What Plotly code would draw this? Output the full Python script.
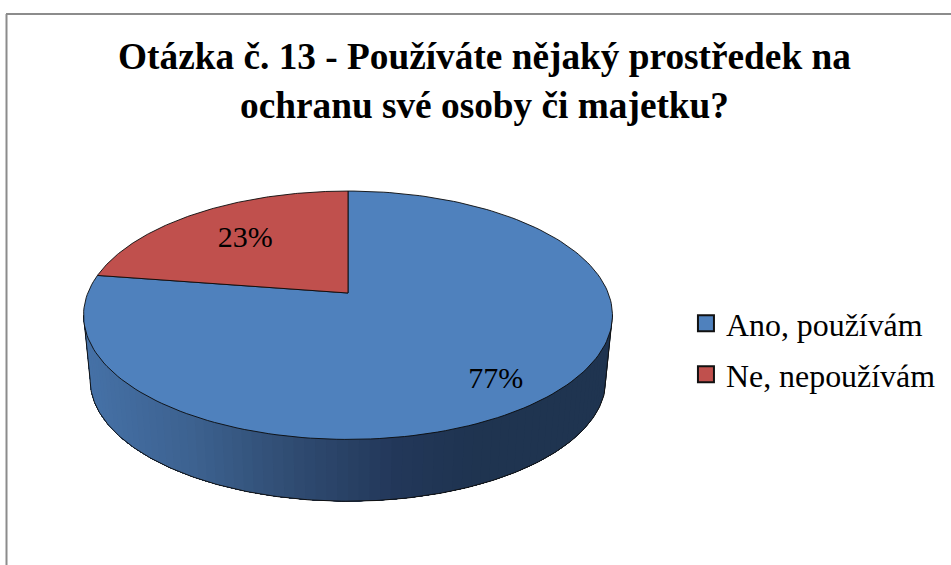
import numpy as np
import plotly.graph_objects as go

# data
categories = ['Ano, používám', 'Ne, nepoužívám']
values = [77.4, 22.6]
colors = ['#4f81bd', '#c0504d']
title_text = 'Otázka č. 13 - Používáte nějaký prostředek na<br>ochranu své osoby či majetku?'

# pie geometry in pixels (axes run 1:1 with the page)
WIDTH, HEIGHT = 951, 565
CX, CY = 348, 293
RX, RY = 260.2, 120.2
TILT = 0.179
WALL_DROP = 65.5
WALL_SCALE = 0.975
LABEL_RADIUS = [0.816, 0.65]
LABEL_TURN = [2.7, -0.7]
FONT = 'Liberation Serif'


def rim(angle, scale=1.0, drop=0.0, radius=1.0):
    # angle is clockwise from the top of the pie, in radians
    u = np.sin(angle) * radius
    v = -np.cos(angle) * radius
    w = 1 - TILT * v
    return CX + scale * RX * u / w, CY + drop + scale * RY * v / w


def wall_color(x):
    stops_x = [91, 200, 300, 400, 480]
    stops = np.array([[70, 114, 168], [61, 98, 144], [48, 76, 114], [35, 56, 90], [31, 52, 80]])
    rgb = [int(np.interp(x, stops_x, stops[:, i])) for i in range(3)]
    return f'rgb({rgb[0]},{rgb[1]},{rgb[2]})'


fig = go.Figure()

# side wall, cut in strips to get the gradient. drawn right to left with
# each strip running on under the next one so no seams show
side = np.degrees(np.arccos(-TILT))  # where the rim is widest
edges = np.radians(np.linspace(side, 360 - side, 81))
for a0 in edges[:-1]:
    arc = np.linspace(a0, edges[-1], 60)
    x_top, y_top = rim(arc)
    x_low, y_low = rim(arc, WALL_SCALE, WALL_DROP)
    col = wall_color(rim(np.array([a0]), WALL_SCALE)[0][0])
    fig.add_trace(go.Scatter(
        x=np.r_[x_top, x_low[::-1]], y=np.r_[y_top, y_low[::-1]],
        mode='lines', fill='toself', fillcolor=col,
        line=dict(color=col, width=0), hoverinfo='skip', showlegend=False,
    ))

# outline of the wall
arc = np.radians(np.linspace(side, 360 - side, 200))
x_low, y_low = rim(arc, WALL_SCALE, WALL_DROP)
x_ends, y_ends = rim(np.radians([side, 360 - side]))
fig.add_trace(go.Scatter(
    x=np.r_[x_ends[0], x_low, x_ends[1]], y=np.r_[y_ends[0], y_low, y_ends[1]], mode='lines',
    line=dict(color='#111111', width=1), hoverinfo='skip', showlegend=False,
))

# top face
total = sum(values)
start = 0.0
mids = []
for name, val, col in zip(categories, values, colors):
    sweep = 360.0 * val / total
    arc = np.radians(np.linspace(start, start + sweep, 180))
    x_arc, y_arc = rim(arc)
    fig.add_trace(go.Scatter(
        x=np.r_[CX, x_arc, CX], y=np.r_[CY, y_arc, CY],
        mode='lines', fill='toself', fillcolor=col, name=name,
        line=dict(color='#0a0a0a', width=0.9), showlegend=False,
    ))
    mids.append(start + sweep / 2)
    start += sweep

# percent labels
for val, mid, r, turn in zip(values, mids, LABEL_RADIUS, LABEL_TURN):
    lx, ly = rim(np.radians(mid + turn), radius=r)
    fig.add_trace(go.Scatter(
        x=[lx], y=[ly], mode='text', text=[f'{val:.0f}%'], textposition='middle center',
        textfont=dict(family=FONT, size=30, color='black'),
        hoverinfo='skip', showlegend=False,
    ))

# legend entries
for name, col in zip(categories, colors):
    fig.add_trace(go.Scatter(
        x=[None], y=[None], mode='markers', name=name, legendgroup=name,
        marker=dict(symbol='square', size=16, color=col, line=dict(color='#111111', width=2)),
    ))

# frame of the chart area
fig.add_shape(type='line', xref='x', yref='y', x0=6.5, y0=HEIGHT, x1=6.5, y1=14,
              line=dict(color='#8c8c8c', width=2))
fig.add_shape(type='line', xref='x', yref='y', x0=6, y0=14, x1=WIDTH, y1=14,
              line=dict(color='#8c8c8c', width=2))

fig.update_layout(
    width=WIDTH, height=HEIGHT,
    margin=dict(l=0, r=0, t=0, b=0),
    paper_bgcolor='white', plot_bgcolor='white',
    title=dict(text=title_text, x=484.5 / WIDTH, xanchor='center', y=0.877, yanchor='top',
               font=dict(family=FONT, size=37.3, color='black', weight='bold')),
    legend=dict(x=0.7213, y=0.476, xanchor='left', yanchor='top', tracegroupgap=6.5,
                font=dict(family=FONT, size=31.9, color='black'),
                bgcolor='rgba(0,0,0,0)'),
    xaxis=dict(range=[0, WIDTH], visible=False, fixedrange=True),
    yaxis=dict(range=[HEIGHT, 0], visible=False, fixedrange=True),
)

fig.write_html('out.html', config=dict(displayModeBar=False),
               post_script="document.body.style.margin='0';")
